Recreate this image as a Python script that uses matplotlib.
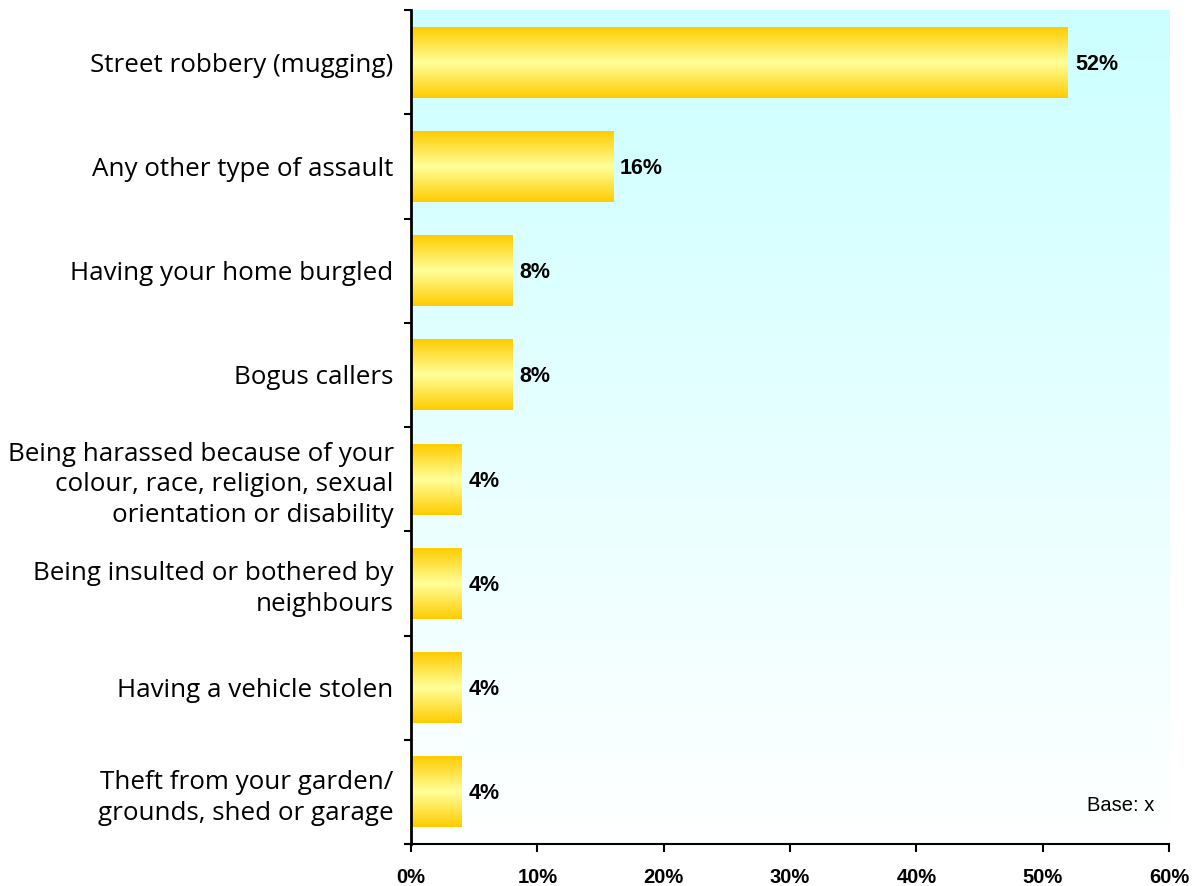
import numpy as np
import matplotlib.pyplot as plt
from matplotlib.colors import LinearSegmentedColormap

categories = [
    "Street robbery (mugging)",
    "Any other type of assault",
    "Having your home burgled",
    "Bogus callers",
    "Being harassed because of your\ncolour, race, religion, sexual\norientation or disability",
    "Being insulted or bothered by\nneighbours",
    "Having a vehicle stolen",
    "Theft from your garden/\ngrounds, shed or garage",
]
values = [52, 16, 8, 8, 4, 4, 4, 4]
xticks = [0, 10, 20, 30, 40, 50, 60]

fig = plt.figure(figsize=(12, 8.86), dpi=100)
ax = fig.add_axes([0.3425, 0.0474, 0.6317, 0.9413])

# background gradient: white at bottom -> pale cyan at top
bg = LinearSegmentedColormap.from_list("bg", ["#ffffff", "#ccffff"])
ax.imshow(np.linspace(0, 1, 256).reshape(-1, 1), cmap=bg, aspect="auto",
          extent=[0, 1, 0, 1], transform=ax.transAxes, origin="lower", zorder=0)

# bar gradient: gold edges, light yellow centre
barcm = LinearSegmentedColormap.from_list("bar", ["#ffcc00", "#ffff99", "#ffcc00"])
grad = np.linspace(0, 1, 256).reshape(-1, 1)

ypos = np.arange(len(categories))
bars = ax.barh(ypos, values, height=0.68, color="none", edgecolor="none", zorder=2)
for b, v in zip(bars, values):
    x0, y0 = b.get_x(), b.get_y()
    ax.imshow(grad, cmap=barcm, aspect="auto", zorder=2,
              extent=[x0, x0 + b.get_width(), y0, y0 + b.get_height()])
    ax.text(v + 0.55, b.get_y() + b.get_height() / 2 + 0.02, f"{v}%", va="center", ha="left",
            fontsize=15.5, fontweight="bold", family="Liberation Sans", zorder=3)

ax.set_xlim(0, 60)
ax.set_ylim(len(categories) - 0.5, -0.5)

ax.set_yticks(ypos)
ax.set_yticklabels(categories, fontsize=18.7, family="Open Sans", linespacing=1.3)
ax.tick_params(axis="y", which="major", length=0, pad=12.5)
ax.set_yticks(np.arange(-0.5, len(categories)), minor=True)
ax.tick_params(axis="y", which="minor", length=5, width=1.5, direction="out")

ax.set_xticks(xticks)
ax.set_xticklabels([f"{t}%" for t in xticks], fontsize=14.5, fontweight="bold",
                   family="Liberation Sans")
ax.tick_params(axis="x", length=6, width=1.5, direction="out", pad=11)

for s in ["top", "right"]:
    ax.spines[s].set_visible(False)
ax.spines["left"].set_linewidth(2)
ax.spines["bottom"].set_linewidth(1.5)

ax.text(0.98, 0.035, "Base: x", transform=ax.transAxes, ha="right", va="bottom",
        fontsize=14.5, family="Liberation Sans", zorder=3)

fig.savefig("out.png", dpi=100)
